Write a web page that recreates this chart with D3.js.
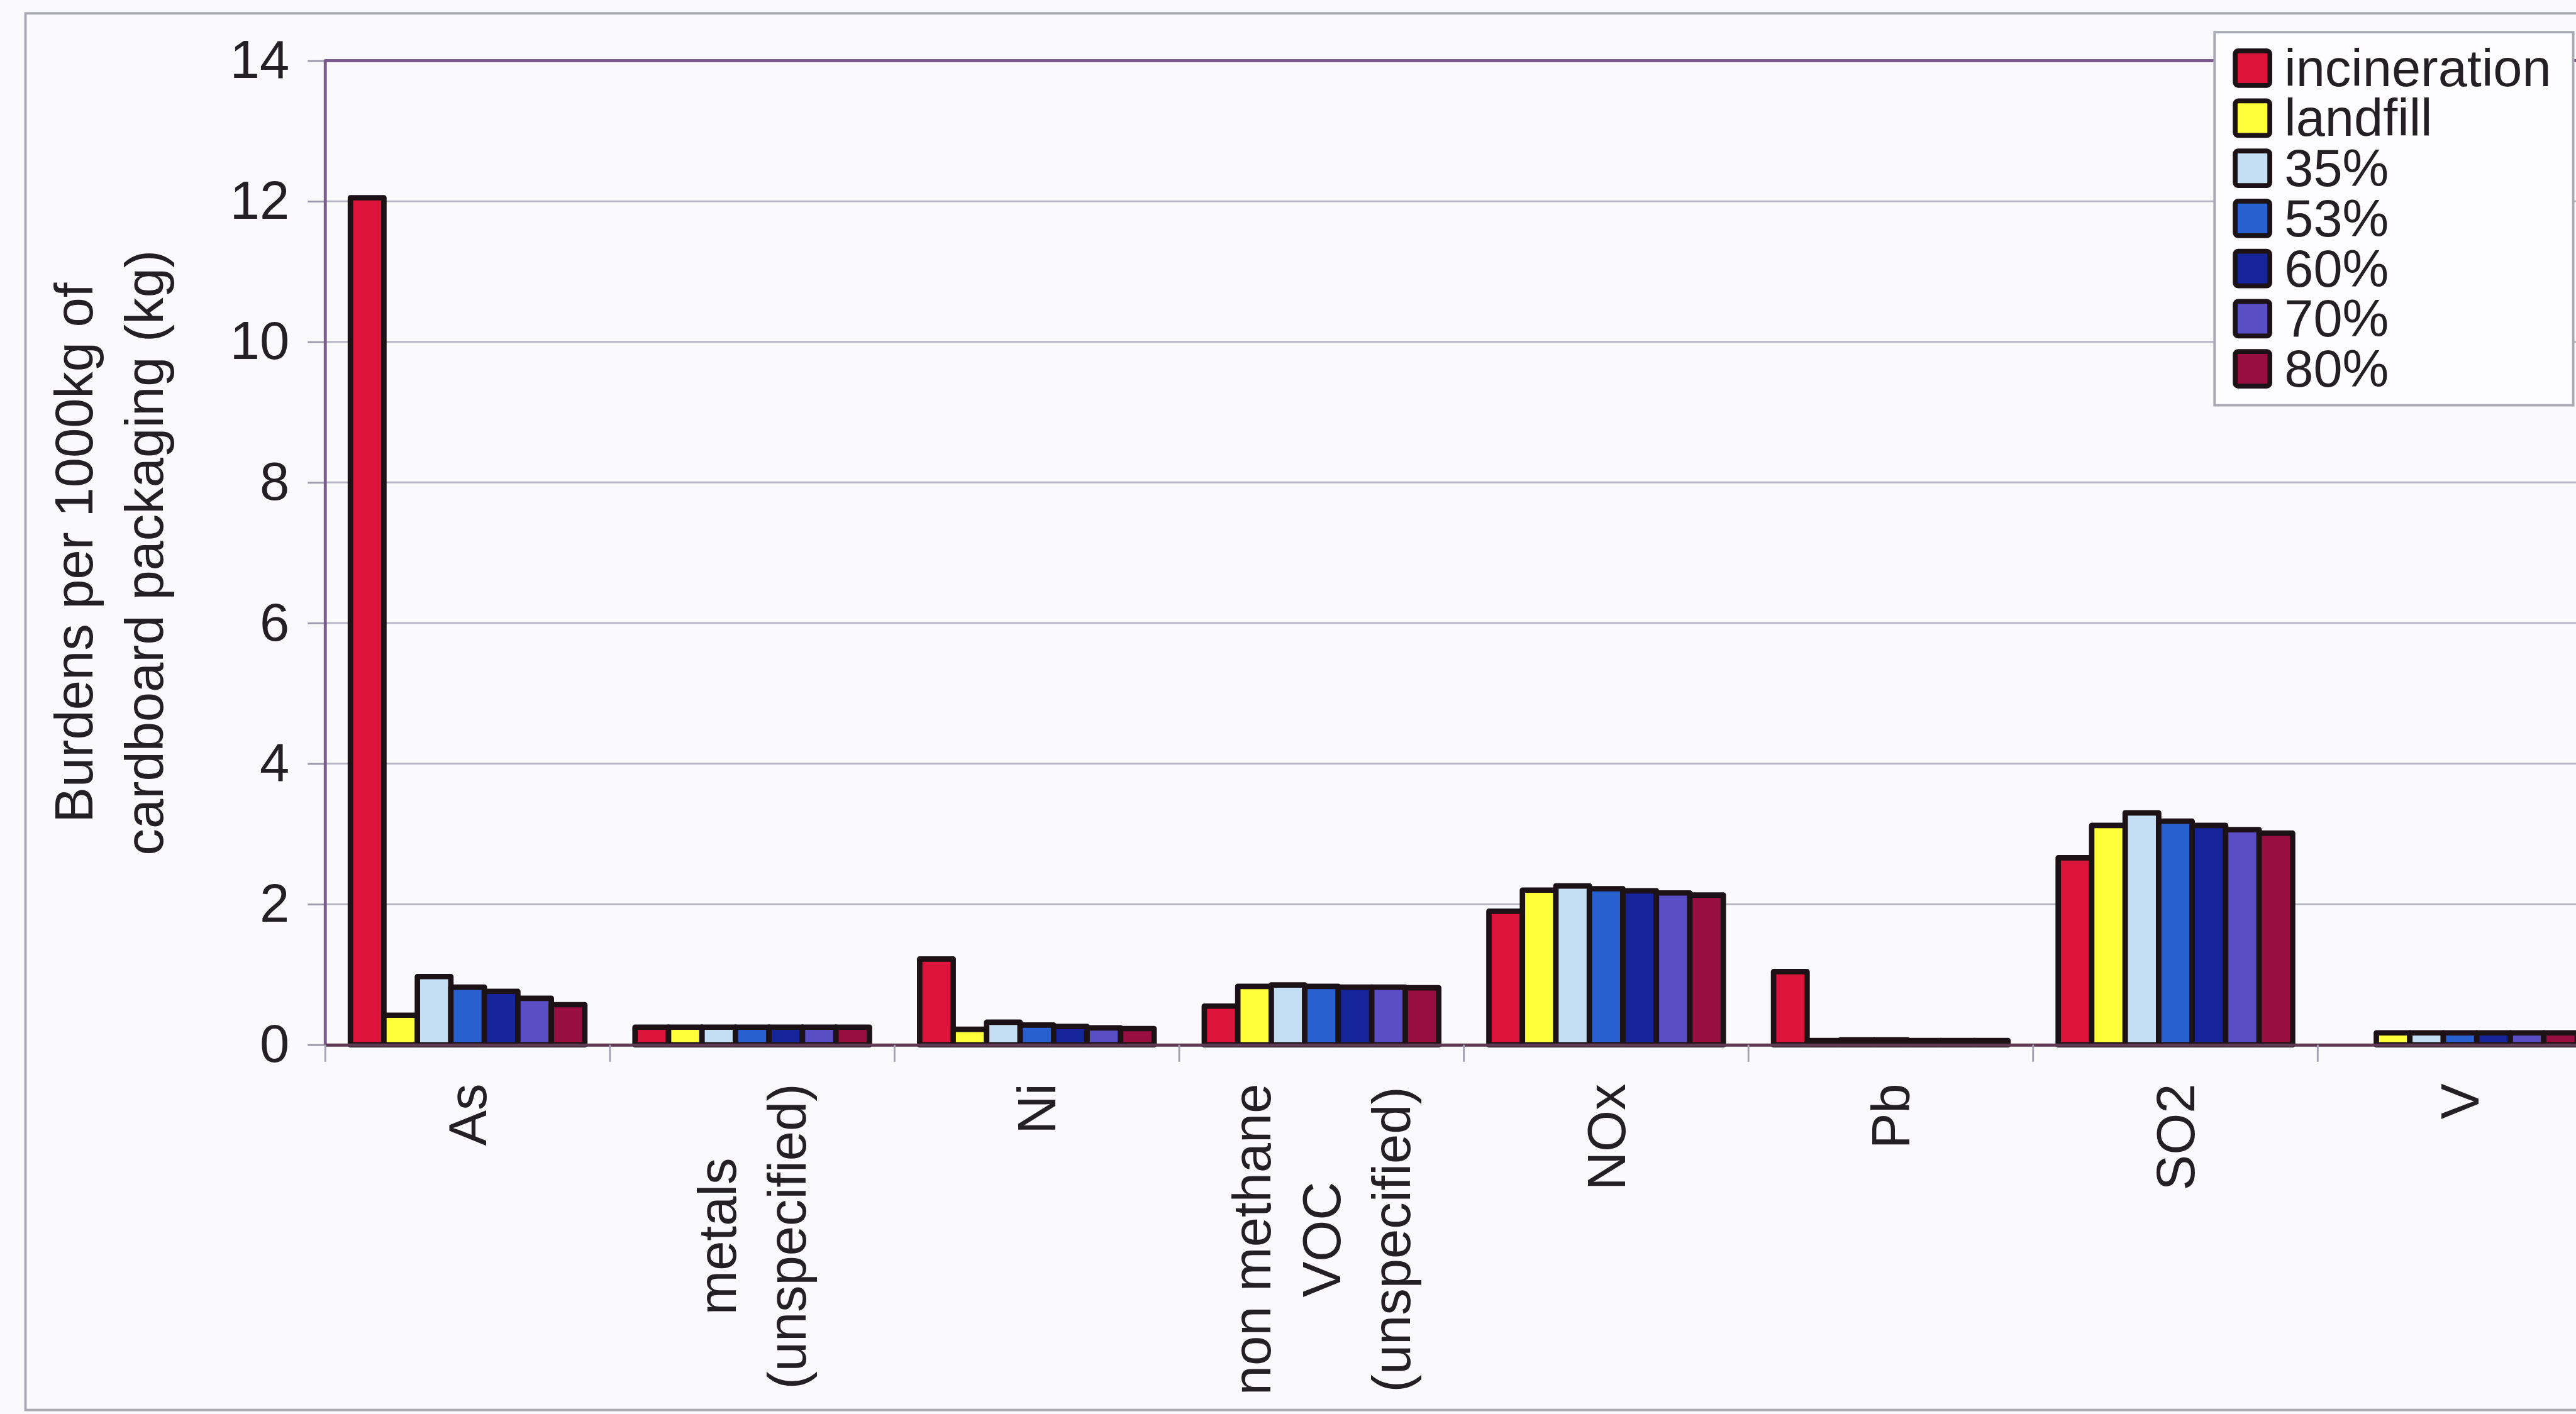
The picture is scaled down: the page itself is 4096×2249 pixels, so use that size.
<!DOCTYPE html>
<html>
<head>
<meta charset="utf-8">
<script src="https://cdn.jsdelivr.net/npm/d3@7/dist/d3.min.js"></script>
<style>
  html, body { margin: 0; padding: 0; background: #fafafd; overflow: hidden; }
  svg { display: block; }
  text { font-family: "Liberation Sans", Arial, sans-serif; fill: #231f22; }
</style>
</head>
<body>
<svg id="chart" width="4096" height="2249"></svg>
<script>
// Emission burdens per 1000 kg of cardboard packaging, by end-of-life scenario
const categories = ["As", "metals\n(unspecified)", "Ni", "non methane\nVOC\n(unspecified)", "NOx", "Pb", "SO2", "V"];
const series = ["incineration", "landfill", "35%", "53%", "60%", "70%", "80%"];
const seriesColors = ["#dc143c", "#ffff3a", "#c4def4", "#2860d0", "#16249a", "#5a4ec4", "#980e40"];

const incineration = [12.05, 0.25, 1.22, 0.55, 1.90, 1.04, 2.66, 0.00];
const landfill     = [0.42, 0.25, 0.22, 0.83, 2.20, 0.06, 3.12, 0.17];
const rec35        = [0.97, 0.25, 0.32, 0.85, 2.26, 0.07, 3.30, 0.17];
const rec53        = [0.82, 0.25, 0.28, 0.83, 2.22, 0.07, 3.18, 0.17];
const rec60        = [0.76, 0.25, 0.26, 0.82, 2.19, 0.06, 3.12, 0.17];
const rec70        = [0.66, 0.25, 0.24, 0.82, 2.16, 0.06, 3.06, 0.17];
const rec80        = [0.57, 0.25, 0.23, 0.81, 2.13, 0.06, 3.01, 0.17];
const seriesValues = [incineration, landfill, rec35, rec53, rec60, rec70, rec80];

const yTicks = [0, 2, 4, 6, 8, 10, 12, 14];
const yTitle = ["Burdens per 1000kg of", "cardboard packaging (kg)"];

// Layout is laid out on a 4242 x 2329 canvas and scaled to the window
const S = 0.965;
const svg = d3.select("#chart");
const root = svg.append("g").attr("transform", `scale(${S})`);

root.append("rect").attr("x", 0).attr("y", 0).attr("width", 4242).attr("height", 2329).attr("fill", "#fafafd");

// outer chart frame
root.append("rect")
  .attr("x", 42).attr("y", 22).attr("width", 4400).attr("height", 2302)
  .attr("fill", "none").attr("stroke", "#a9a9b2").attr("stroke-width", 4);

const plotLeft = 536, plotTop = 100, plotBottom = 1722;
const catStep = 469;

const x = d3.scaleBand().domain(categories)
  .range([plotLeft, plotLeft + catStep * categories.length])
  .paddingInner(0).paddingOuter(0);
const xs = d3.scaleBand().domain(series)
  .range([0, x.bandwidth()])
  .paddingInner(0).paddingOuter(0.75);
const y = d3.scaleLinear().domain([0, 14]).range([plotBottom, plotTop]);

// gridlines
root.append("g").selectAll("line").data(yTicks.filter(d => d > 0 && d < 14)).join("line")
  .attr("x1", plotLeft).attr("x2", 4400)
  .attr("y1", d => y(d)).attr("y2", d => y(d))
  .attr("stroke", "#b7b6c6").attr("stroke-width", 3);

// y axis
const yAxis = d3.axisLeft(y).tickValues(yTicks).tickSize(29).tickPadding(30);
const yg = root.append("g").attr("transform", `translate(${plotLeft},0)`).call(yAxis);
yg.select(".domain").remove();
yg.selectAll(".tick line").attr("stroke", "#9e9aae").attr("stroke-width", 3);
yg.selectAll(".tick text")
  .style("font-family", "'Liberation Sans', Arial, sans-serif")
  .attr("font-size", 88).attr("fill", "#231f22");

// plot frame: top border and left axis
root.append("line").attr("x1", plotLeft).attr("x2", 4400)
  .attr("y1", plotTop).attr("y2", plotTop)
  .attr("stroke", "#7d5a8e").attr("stroke-width", 5);
root.append("line").attr("x1", plotLeft).attr("x2", plotLeft)
  .attr("y1", plotTop - 2).attr("y2", plotBottom)
  .attr("stroke", "#7d5a8e").attr("stroke-width", 5);

// bars
const groups = root.append("g").selectAll("g").data(categories).join("g")
  .attr("transform", d => `translate(${x(d)},0)`);
groups.selectAll("rect")
  .data((c, ci) => series.map((s, si) => ({ s, si, v: seriesValues[si][ci] })))
  .join("rect")
  .attr("x", d => xs(d.s))
  .attr("width", xs.bandwidth())
  .attr("y", d => y(d.v))
  .attr("height", d => y(0) - y(d.v))
  .attr("fill", d => seriesColors[d.si])
  .attr("stroke", "#1c1216")
  .attr("stroke-width", d => d.v > 0 ? 9 : 0)
  .attr("stroke-linejoin", "round");

// x axis baseline and category ticks
const xAxis = d3.axisBottom(x).tickValues([]).tickSizeOuter(0);
const xg = root.append("g").attr("transform", `translate(0,${plotBottom})`).call(xAxis);
xg.select(".domain").attr("stroke", "#5e3a55").attr("stroke-width", 5);
root.append("g").selectAll("line")
  .data(d3.range(categories.length + 1).map(i => plotLeft + i * catStep))
  .join("line")
  .attr("x1", d => d).attr("x2", d => d)
  .attr("y1", plotBottom).attr("y2", plotBottom + 28)
  .attr("stroke", "#a4a2b2").attr("stroke-width", 3);

// rotated category labels, lines centred in a block that starts below the axis
const labelTop = 1786, lineGap = 115, labelSize = 88;
categories.forEach(c => {
  const lines = c.split("\n");
  const cx = x(c) + x.bandwidth() / 2;
  const g = root.append("g");
  const texts = lines.map((ln, i) => g.append("text")
    .attr("font-size", labelSize)
    .attr("text-anchor", "middle")
    .attr("dy", "0.35em")
    .text(ln));
  const maxLen = d3.max(texts, t => t.node().getComputedTextLength());
  const yc = labelTop + maxLen / 2;
  texts.forEach((t, i) => {
    const lx = cx + (i - (lines.length - 1) / 2) * lineGap;
    t.attr("transform", `translate(${lx},${yc}) rotate(-90)`);
  });
});

// y axis title
yTitle.forEach((ln, i) => {
  root.append("text")
    .attr("font-size", 88)
    .attr("text-anchor", "middle")
    .attr("transform", `translate(${152 + i * 116},911) rotate(-90)`)
    .text(ln);
});

// legend
const lg = root.append("g");
lg.append("rect")
  .attr("x", 3649).attr("y", 53).attr("width", 591).attr("height", 615)
  .attr("fill", "#fdfdff").attr("stroke", "#a9a9b2").attr("stroke-width", 4);
const rowY = d3.scalePoint().domain(series).range([111.7, 607.3]);
series.forEach((s, i) => {
  lg.append("rect")
    .attr("x", 3683).attr("y", rowY(s) - 28).attr("width", 57).attr("height", 57)
    .attr("rx", 5)
    .attr("fill", seriesColors[i]).attr("stroke", "#1c1216").attr("stroke-width", 8);
  lg.append("text")
    .attr("x", 3764).attr("y", rowY(s) + 30)
    .attr("font-size", 86)
    .text(s);
});
</script>
</body>
</html>
